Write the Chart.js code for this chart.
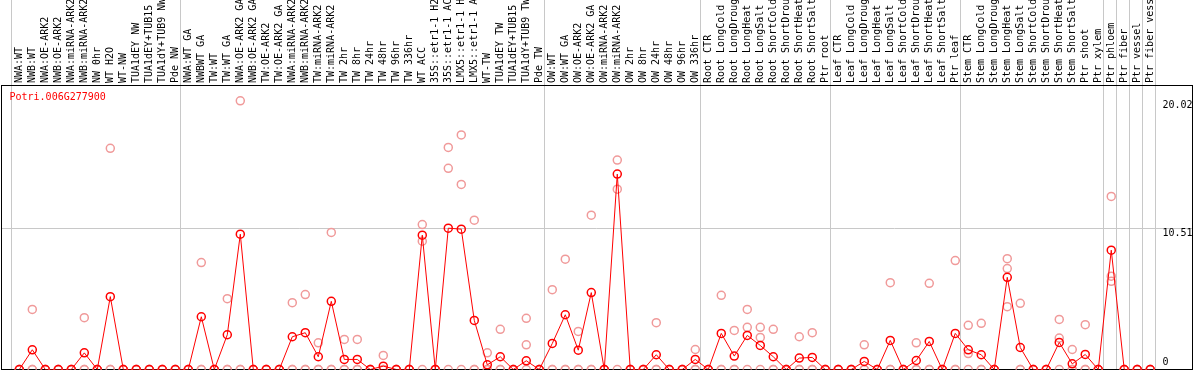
<!DOCTYPE html>
<html>
<head>
<meta charset="utf-8">
<script src="https://cdn.jsdelivr.net/npm/chart.js@4.4.1/dist/chart.umd.min.js"></script>
<style>
  html, body { margin: 0; padding: 0; background: #fff; }
</style>
</head>
<body>
<canvas id="chart" width="1194" height="370"></canvas>
<script>
const gene = 'Potri.006G277900';

const samples = [
  'NWA:WT', 'NWB:WT', 'NWA:OE-ARK2', 'NWB:OE-ARK2', 'NWA:miRNA-ARK2', 'NWB:miRNA-ARK2',
  'NW 0hr', 'WT H2O', 'WT-NW', 'TUA1dEY NW', 'TUA1dEY+TUB15 NW', 'TUA1dY+TUB9 NW', 'Pde NW',
  'NWA:WT GA', 'NWBWT GA', 'TW:WT', 'TW:WT GA', 'NWA:OE-ARK2 GA', 'NWB:OE-ARK2 GA',
  'TW:OE-ARK2', 'TW:OE-ARK2 GA', 'NWA:miRNA-ARK2 GA', 'NWB:miRNA-ARK2 GA', 'TW:miRNA-ARK2',
  'TW:miRNA-ARK2 GA', 'TW 2hr', 'TW 8hr', 'TW 24hr', 'TW 48hr', 'TW 96hr', 'TW 336hr',
  'WT ACC', '35S::etr1-1 H2O', '35S::etr1-1 ACC', 'LMX5::etr1-1 H2O', 'LMX5::etr1-1 ACC',
  'WT-TW', 'TUA1dEY TW', 'TUA1dEY+TUB15 TW', 'TUA1dY+TUB9 TW', 'Pde TW',
  'OW:WT', 'OW:WT GA', 'OW:OE-ARK2', 'OW:OE-ARK2 GA', 'OW:miRNA-ARK2', 'OW:miRNA-ARK2 GA',
  'OW 2hr', 'OW 8hr', 'OW 24hr', 'OW 48hr', 'OW 96hr', 'OW 336hr',
  'Root CTR', 'Root LongCold', 'Root LongDrought', 'Root LongHeat', 'Root LongSalt',
  'Root ShortCold', 'Root ShortDrought', 'Root ShortHeat', 'Root ShortSalt', 'Ptr root',
  'Leaf CTR', 'Leaf LongCold', 'Leaf LongDrought', 'Leaf LongHeat', 'Leaf LongSalt',
  'Leaf ShortCold', 'Leaf ShortDrought', 'Leaf ShortHeat', 'Leaf ShortSalt', 'Ptr leaf',
  'Stem CTR', 'Stem LongCold', 'Stem LongDrought', 'Stem LongHeat', 'Stem LongSalt',
  'Stem ShortCold', 'Stem ShortDrought', 'Stem ShortHeat', 'Stem ShortSalt', 'Ptr shoot',
  'Ptr xylem', 'Ptr phloem', 'Ptr fiber', 'Ptr vessel', 'Ptr fiber vessel'
];

// samples per block, separated by the grey lines
const groupSizes = [13, 28, 12, 10, 10, 11, 1, 1, 1, 1];

const mean = [
  0, 1.47, 0, 0, 0, 1.24, 0, 5.43, 0, 0, 0, 0, 0,
  0, 3.93, 0, 2.59, 10.08, 0, 0, 0, 2.44, 2.74, 0.95, 5.08, 0.75, 0.75, 0, 0.25, 0, 0,
  10.01, 0, 10.53, 10.46, 3.66, 0.35, 0.95, 0, 0.65, 0,
  1.94, 4.08, 1.44, 5.73, 0, 14.56, 0, 0, 1.10, 0, 0, 0.75,
  0, 2.69, 1.00, 2.54, 1.79, 0.95, 0, 0.85, 0.90, 0,
  0, 0, 0.60, 0, 2.17, 0, 0.67, 2.09, 0, 2.69,
  1.47, 1.10, 0, 6.87, 1.64, 0, 0, 2.02, 0.42, 1.12, 0,
  8.89, 0, 0, 0
];

const rep1 = [
  0, 4.48, 0, 0, 0, 3.86, 0, 16.48, 0, 0, 0, 0, 0,
  0, 7.97, 0, 5.28, 20.02, 0, 0, 0, 4.98, 5.58, 1.99, 10.21, 2.24, 2.24, 0, 1.05, 0, 0,
  10.80, 0, 16.55, 17.48, 11.13, 1.24, 2.99, 0, 3.81, 0,
  5.95, 8.22, 2.84, 11.50, 0, 15.61, 0, 0, 3.49, 0, 0, 1.49,
  0, 5.53, 2.91, 4.48, 3.14, 2.99, 0, 2.44, 2.74, 0,
  0, 0, 1.84, 0, 6.47, 0, 1.99, 6.42, 0, 8.12,
  3.29, 3.44, 0, 8.26, 4.93, 0, 0, 3.73, 1.49, 3.34, 0,
  12.90, 0, 0, 0
];

const rep2 = [
  0, 0, 0, 0, 0, 0, 0, 0, 0, 0, 0, 0, 0,
  0, 0, 0, 0, 0, 0, 0, 0, 0, 0, 0, 0, 0, 0, 0, 0, 0, 0,
  9.56, 0, 14.99, 13.79, 0, 0, 0, 0, 1.84, 0,
  0, 0, 0, 0, 0, 13.44, 0, 0, 0, 0, 0, 0,
  0, 0, 0, 3.14, 2.39, 0, 0, 0, 0, 0,
  0, 0, 0, 0, 0, 0, 0, 0, 0, 0,
  1.19, 0, 0, 7.52, 0, 0, 0, 2.34, 0, 0, 0,
  6.95, 0, 0, 0
];

const rep3 = [
  0, 0, 0, 0, 0, 0, 0, 0, 0, 0, 0, 0, 0,
  0, 0, 0, 0, 0, 0, 0, 0, 0, 0, 0, 0, 0, 0, 0, 0, 0, 0,
  0, 0, 0, 0, 0, 0, 0, 0, 0, 0,
  0, 0, 0, 0, 0, 0, 0, 0, 0, 0, 0, 0,
  0, 0, 0, 0, 0, 0, 0, 0, 0, 0,
  0, 0, 0, 0, 0, 0, 0, 0, 0, 0,
  0, 0, 0, 4.68, 0, 0, 0, 0, 0, 0, 0,
  6.57, 0, 0, 0
];

const yTicks = [0, 10.51, 20.02];

const grey = '#c8c8c8';
const clear = 'rgba(0,0,0,0)';
const pink = '#f09a9a';
const mono = "'DejaVu Sans Mono', monospace";

// block separators sit a bit left of each block's first sample
const bounds = [0];
groupSizes.forEach(n => bounds.push(bounds[bounds.length - 1] + n));
const lineShift = 8 / 13;

const xy = arr => arr.map((v, i) => ({x: i, y: v}));

// keep label overhang from eating into the plot
const noPad = s => { s.paddingLeft = s.paddingRight = s.paddingTop = s.paddingBottom = 0; };

const repSet = arr => ({
  data: xy(arr),
  xAxisID: 'x', yAxisID: 'y',
  showLine: false,
  pointRadius: 4,
  pointBorderWidth: 1.5,
  pointBorderColor: pink,
  pointBackgroundColor: clear,
  order: 2
});

const geneLabel = {
  id: 'geneLabel',
  afterDatasetsDraw(chart) {
    const {ctx, chartArea} = chart;
    ctx.save();
    ctx.font = '10px ' + mono;
    ctx.fillStyle = '#ff0000';
    ctx.textBaseline = 'middle';
    ctx.fillText(gene, chartArea.left + 8, chartArea.top + 12);
    ctx.restore();
  }
};

new Chart(document.getElementById('chart'), {
  type: 'line',
  data: {
    datasets: [
      {
        data: xy(mean),
        xAxisID: 'x', yAxisID: 'y',
        borderColor: '#ff0000',
        borderWidth: 1,
        pointRadius: 4,
        pointBorderWidth: 1.5,
        pointBorderColor: '#ff0000',
        pointBackgroundColor: clear,
        order: 1
      },
      repSet(rep1),
      repSet(rep2),
      repSet(rep3)
    ]
  },
  options: {
    responsive: false,
    animation: false,
    devicePixelRatio: 1,
    layout: {autoPadding: false, padding: {left: 1.5, right: 1.5, top: 0, bottom: 0.5}},
    plugins: {legend: {display: false}, tooltip: {enabled: false}},
    scales: {
      x: {
        type: 'linear',
        position: 'top',
        min: -1.37,
        max: 90.25,
        afterBuildTicks: s => {
          const t = samples.map((_, i) => ({value: i}));
          bounds.forEach(b => t.push({value: b - lineShift}));
          s.ticks = t;
        },
        afterFit: s => { s.height = 85; noPad(s); },
        grid: {
          color: c => (c.tick && !Number.isInteger(c.tick.value)) ? grey : clear,
          lineWidth: 1,
          drawTicks: true,
          tickLength: 85
        },
        border: {color: '#000', width: 1},
        ticks: {
          autoSkip: false,
          minRotation: 90,
          maxRotation: 90,
          padding: -83,
          labelOffset: 12,
          color: '#000',
          font: {family: mono, size: 10},
          callback: v => Number.isInteger(v) ? samples[v] : ''
        }
      },
      xb: {
        type: 'linear',
        position: 'bottom',
        afterFit: s => { s.height = 0; noPad(s); },
        grid: {display: false},
        ticks: {display: false},
        border: {color: '#000', width: 1}
      },
      y: {
        type: 'linear',
        position: 'right',
        min: 0,
        max: 21.2,
        afterBuildTicks: s => { s.ticks = yTicks.map(v => ({value: v})); },
        afterFit: s => { s.width = 0; noPad(s); },
        grid: {
          color: c => (c.tick && c.tick.value === yTicks[1]) ? grey : clear,
          drawTicks: false
        },
        border: {color: '#000', width: 1},
        ticks: {
          mirror: true,
          crossAlign: 'far',
          align: 'start',
          padding: 0,
          color: '#000',
          font: {family: mono, size: 10},
          callback: v => v === 0 ? ['0', '', ''] : v.toFixed(2)
        }
      },
      yl: {
        type: 'linear',
        position: 'left',
        afterFit: s => { s.width = 0; noPad(s); },
        grid: {display: false},
        ticks: {display: false},
        border: {color: '#000', width: 1}
      }
    }
  },
  plugins: [geneLabel]
});
</script>
</body>
</html>
